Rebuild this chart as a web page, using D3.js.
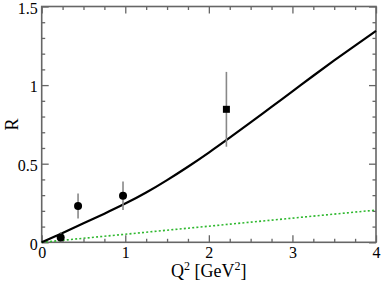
<!DOCTYPE html>
<html><head><meta charset="utf-8">
<script src="https://cdn.jsdelivr.net/npm/d3@7"></script>
<style>
body{margin:0;background:#fff;}
svg text{font-family:"Liberation Serif","Times New Roman",serif;}
</style></head>
<body><svg id="c" width="382" height="283"></svg>
<script>
// data
const curveQ2 = [0,0.25,0.5,0.75,1,1.25,1.5,1.75,2,2.25,2.5,2.75,3,3.25,3.5,3.75,4];
const curveR  = [0,0.058,0.121,0.182,0.245,0.315,0.395,0.48,0.57,0.665,0.762,0.862,0.96,1.06,1.157,1.252,1.345];
const dottedQ2 = [0,4];
const dottedR  = [0,0.205];
const circQ2 = [0.227,0.435,0.973];
const circR  = [0.03,0.231,0.296];
const circErr= [0.035,0.08,0.09];
const sqQ2 = [2.21];
const sqR  = [0.846];
const sqErr= [0.238];
const xMajor = [0,1,2,3,4];
const yMajor = [0,0.5,1,1.5];
const yLabels = ["0","0.5","1","1.5"];

const m = {l:41.7, r:376, t:6.5, b:242.3};
const x = d3.scaleLinear().domain([0,4]).range([m.l,m.r]);
const y = d3.scaleLinear().domain([0,1.5]).range([m.b,m.t]);
const svg = d3.select("#c");
const FF = "'Liberation Serif','Times New Roman',serif";

const xMinor = d3.range(0,4.001,0.25).filter(v=>Math.abs(v-Math.round(v))>1e-6);
const yMinor = d3.range(0,1.501,0.1).filter(v=>Math.abs(v*2-Math.round(v*2))>1e-6);

function styleAxis(g){
  g.attr("font-family",null).attr("font-size",null);
  g.select(".domain").remove();
  g.selectAll(".tick line").attr("stroke","#666").attr("stroke-width",1.3);
  g.selectAll("text").style("font-family",FF).style("font-size","16px").attr("fill","#000");
}
svg.append("g").attr("transform",`translate(0,${m.b})`)
  .call(d3.axisBottom(x).tickValues(xMajor).tickFormat(d3.format("d")).tickSize(-7).tickPadding(4))
  .call(styleAxis).selectAll("text").attr("dy","0.72em");
svg.append("g").attr("transform",`translate(0,${m.b})`)
  .call(d3.axisBottom(x).tickValues(xMinor).tickFormat("").tickSize(-3.5)).call(styleAxis);
svg.append("g").attr("transform",`translate(0,${m.t})`)
  .call(d3.axisTop(x).tickValues(xMajor).tickFormat("").tickSize(-7)).call(styleAxis);
svg.append("g").attr("transform",`translate(0,${m.t})`)
  .call(d3.axisTop(x).tickValues(xMinor).tickFormat("").tickSize(-3.5)).call(styleAxis);
svg.append("g").attr("transform",`translate(${m.l},0)`)
  .call(d3.axisLeft(y).tickValues(yMajor).tickFormat((d,i)=>yLabels[i]).tickSize(-7).tickPadding(4))
  .call(styleAxis).selectAll("text").attr("dy","0.42em");
svg.append("g").attr("transform",`translate(${m.l},0)`)
  .call(d3.axisLeft(y).tickValues(yMinor).tickFormat("").tickSize(-3.5)).call(styleAxis);
svg.append("g").attr("transform",`translate(${m.r},0)`)
  .call(d3.axisRight(y).tickValues(yMajor).tickFormat("").tickSize(-7)).call(styleAxis);
svg.append("g").attr("transform",`translate(${m.r},0)`)
  .call(d3.axisRight(y).tickValues(yMinor).tickFormat("").tickSize(-3.5)).call(styleAxis);

svg.append("rect").attr("x",m.l).attr("y",m.t).attr("width",m.r-m.l).attr("height",m.b-m.t)
  .attr("fill","none").attr("stroke","#666").attr("stroke-width",1.6);

const plot = svg.append("g");
plot.append("path").datum(dottedQ2.map((q,i)=>[q,dottedR[i]]))
  .attr("d",d3.line().x(d=>x(d[0])).y(d=>y(d[1])))
  .attr("fill","none").attr("stroke","#2eb82e").attr("stroke-width",1.6).attr("stroke-dasharray","2,2.2");
plot.append("path").datum(curveQ2.map((q,i)=>[q,curveR[i]]))
  .attr("d",d3.line().x(d=>x(d[0])).y(d=>y(d[1])).curve(d3.curveBasis))
  .attr("fill","none").attr("stroke","#000").attr("stroke-width",2.2);

const errs = circQ2.map((q,i)=>({q,r:circR[i],e:circErr[i]})).concat(sqQ2.map((q,i)=>({q,r:sqR[i],e:sqErr[i]})));
plot.selectAll("line.err").data(errs).enter().append("line")
  .attr("x1",d=>x(d.q)).attr("x2",d=>x(d.q))
  .attr("y1",d=>y(Math.max(0,d.r-d.e))).attr("y2",d=>y(d.r+d.e))
  .attr("stroke","#888").attr("stroke-width",1.6);
plot.selectAll("circle.pt").data(circQ2).enter().append("circle")
  .attr("cx",d=>x(d)).attr("cy",(d,i)=>y(circR[i])).attr("r",4).attr("fill","#000");
plot.selectAll("rect.pt").data(sqQ2).enter().append("rect")
  .attr("x",d=>x(d)-3.5).attr("y",(d,i)=>y(sqR[i])-3.5).attr("width",7).attr("height",7).attr("fill","#000");

const xt = svg.append("text").attr("x",(m.l+m.r)/2).attr("y",277).attr("text-anchor","middle")
  .style("font-family",FF).style("font-size","18px");
xt.append("tspan").text("Q");
xt.append("tspan").attr("dy",-7).style("font-size","12px").text("2");
xt.append("tspan").attr("dy",7).text(" [GeV");
xt.append("tspan").attr("dy",-7).style("font-size","12px").text("2");
xt.append("tspan").attr("dy",7).text("]");
svg.append("text").attr("transform",`translate(18,${(m.t+m.b)/2}) rotate(-90)`)
  .attr("text-anchor","middle").style("font-family",FF).style("font-size","18px").text("R");
</script></body></html>
